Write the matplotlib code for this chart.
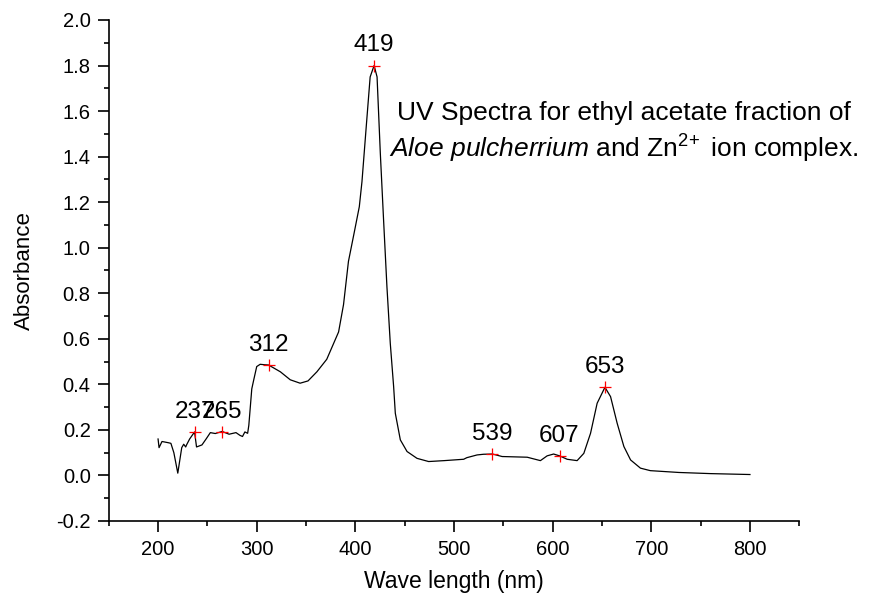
import matplotlib
matplotlib.use("Agg")
import matplotlib.pyplot as plt
from matplotlib.ticker import MultipleLocator
import numpy as np

plt.rcParams['font.family'] = ['Liberation Sans', 'DejaVu Sans']
plt.rcParams['mathtext.fontset'] = 'custom'
plt.rcParams['mathtext.rm'] = 'Liberation Sans'
plt.rcParams['mathtext.it'] = 'Liberation Sans:italic'

# spectrum (nm, absorbance)
wavelength = [200, 201, 204, 210, 213, 216, 220, 224, 226, 228, 229, 232, 237,
              239, 244.5, 249, 253, 258, 265, 272, 279, 283, 285.6, 288, 290.8,
              292, 295, 297, 300, 303.5, 308, 312, 318, 324, 334, 344, 352,
              361, 371, 383, 388, 393, 399, 404, 406.7, 411, 415, 419, 422,
              425.3, 428.6, 432, 435.4, 438.8, 440.5, 445.6, 452.4, 462.5, 474.3,
              490, 509.8, 513, 523.4, 530, 539, 548.8, 574.2, 587.6, 594.4, 601,
              607, 614.7, 624.8, 631.6, 638.4, 645.1, 653, 658.7, 665.4, 672.2,
              679, 689, 699, 728, 760, 800]
absorbance = [0.16, 0.122, 0.149, 0.144, 0.141, 0.10, 0.01, 0.122, 0.137, 0.125,
              0.135, 0.16, 0.191, 0.125, 0.134, 0.162, 0.188, 0.184, 0.193, 0.181,
              0.188, 0.176, 0.171, 0.191, 0.185, 0.22, 0.38, 0.42, 0.478, 0.488,
              0.486, 0.485, 0.47, 0.455, 0.42, 0.405, 0.415, 0.455, 0.51, 0.63,
              0.75, 0.94, 1.07, 1.18, 1.29, 1.53, 1.75, 1.80, 1.75, 1.415, 1.122,
              0.829, 0.58, 0.39, 0.273, 0.156, 0.105, 0.075, 0.061, 0.065, 0.071,
              0.078, 0.09, 0.093, 0.094, 0.083, 0.08, 0.065, 0.086, 0.094, 0.086,
              0.071, 0.065, 0.097, 0.185, 0.317, 0.387, 0.346, 0.229, 0.127, 0.068,
              0.032, 0.021, 0.013, 0.008, 0.004]

peak_wl = [237, 265, 312, 419, 539, 607, 653]
peak_abs = [0.191, 0.19, 0.485, 1.80, 0.094, 0.086, 0.387]
peak_labels = ['237', '265', '312', '419', '539', '607', '653']

fig = plt.figure(figsize=(8.72, 5.98), dpi=100)
ax = fig.add_axes([0.1247, 0.1288, 0.7919, 0.8378])

ax.plot(wavelength, absorbance, color='black', lw=0.9)
ax.plot(peak_wl, peak_abs, ls='none', marker='+', color='red', ms=9, mew=0.9)
for x, y, s in zip(peak_wl, peak_abs, peak_labels):
    ax.annotate(s, (x, y), xytext=(0, 6.7), textcoords='offset points',
                ha='center', va='bottom', fontsize=17.5)

ax.text(672, 1.505, 'UV Spectra for ethyl acetate fraction of\n'
        r'$\it{Aloe\ pulcherrium}$ and Zn$^{2\!+}$ ion complex.',
        ha='center', va='center', fontsize=19, linespacing=1.3)

ax.set_xlim(150, 850)
ax.set_ylim(-0.2, 2.0)
ax.xaxis.set_minor_locator(MultipleLocator(50))
ax.yaxis.set_minor_locator(MultipleLocator(0.1))
ax.set_xticks(np.arange(200, 801, 100))
ytick_vals = np.round(np.arange(-0.2, 2.01, 0.2), 1)
ax.set_yticks(ytick_vals)
ax.set_yticklabels([f'{v:.1f}' for v in ytick_vals])

for side in ['top', 'right']:
    ax.spines[side].set_visible(False)
for side in ['left', 'bottom']:
    ax.spines[side].set_linewidth(1.2)
ax.tick_params(which='major', direction='out', length=8, width=1.2, labelsize=14.5)
ax.tick_params(which='minor', direction='out', length=3.8, width=1.2)
ax.tick_params(axis='x', pad=6)
ax.tick_params(axis='y', pad=5)

ax.set_xlabel('Wave length (nm)', fontsize=16.5)
ax.set_ylabel('Absorbance', fontsize=16)
ax.xaxis.set_label_coords(0.5, -0.097)
ax.yaxis.set_label_coords(-0.107, 0.5)

fig.savefig('out.png', dpi=100)
